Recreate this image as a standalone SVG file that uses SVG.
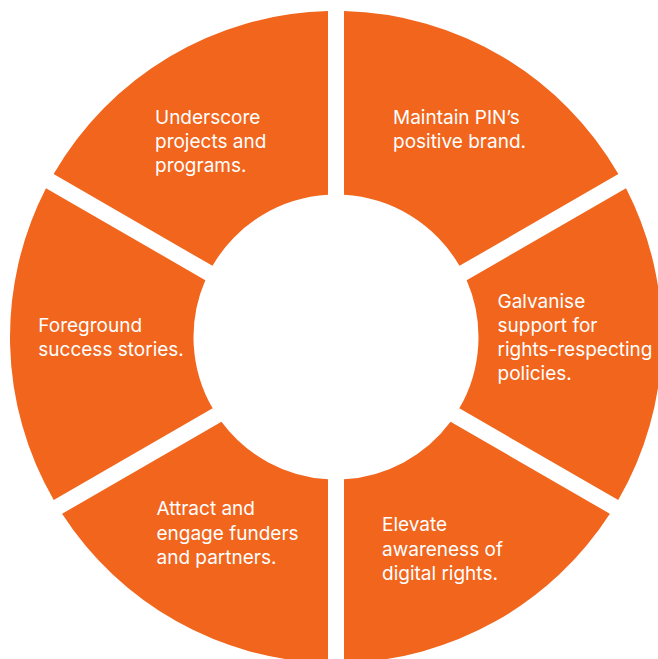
<svg xmlns="http://www.w3.org/2000/svg" width="658" height="659" viewBox="0 0 658 659">
<style>
.seg{fill:#F1651D;}
.lbl{font-family:Inter,"Open Sans","Liberation Sans",sans-serif;font-size:19px;fill:#FFFFFF;}
</style>
<rect width="658" height="659" fill="#FFFFFF"/>
<g id="seg-maintain">
<path class="seg" d="M344,11.10 A326,326 0 0 1 618.39,174.12 L459.48,265.87 A142.5,142.5 0 0 0 344,194.72 Z"/>
<text class="lbl"><tspan x="393" y="123.5">Maintain PIN’s</tspan><tspan x="393" y="147.8">positive brand.</tspan></text>
</g>
<g id="seg-galvanise">
<path class="seg" d="M626.04,188.18 A326,326 0 0 1 618.25,500.12 L459.33,408.37 A142.5,142.5 0 0 0 466.68,280.19 Z"/>
<text class="lbl"><tspan x="497.5" y="308">Galvanise</tspan><tspan x="497.5" y="332">support for</tspan><tspan x="497.5" y="356">rights-respecting</tspan><tspan x="497.5" y="380">policies.</tspan></text>
</g>
<g id="seg-elevate">
<path class="seg" d="M609.90,513.78 A326,326 0 0 1 344,662.90 L344,479.28 A142.5,142.5 0 0 0 450.54,421.77 Z"/>
<text class="lbl"><tspan x="382" y="531">Elevate</tspan><tspan x="382" y="555.5">awareness of</tspan><tspan x="382" y="580">digital rights.</tspan></text>
</g>
<g id="seg-attract">
<path class="seg" d="M328,662.90 A326,326 0 0 1 62.10,513.78 L221.46,421.77 A142.5,142.5 0 0 0 328,479.28 Z"/>
<text class="lbl"><tspan x="156.5" y="515">Attract and</tspan><tspan x="156.5" y="539.5">engage funders</tspan><tspan x="156.5" y="564">and partners.</tspan></text>
</g>
<g id="seg-foreground">
<path class="seg" d="M53.75,500.12 A326,326 0 0 1 45.96,188.18 L205.32,280.19 A142.5,142.5 0 0 0 212.67,408.37 Z"/>
<text class="lbl"><tspan x="38.3" y="332">Foreground</tspan><tspan x="38.3" y="356.3">success stories.</tspan></text>
</g>
<g id="seg-underscore">
<path class="seg" d="M53.61,174.12 A326,326 0 0 1 328,11.10 L328,194.72 A142.5,142.5 0 0 0 212.52,265.87 Z"/>
<text class="lbl"><tspan x="155" y="124.3">Underscore</tspan><tspan x="155" y="148.3">projects and</tspan><tspan x="155" y="172.3">programs.</tspan></text>
</g>
<g id="connectors"/>
</svg>
